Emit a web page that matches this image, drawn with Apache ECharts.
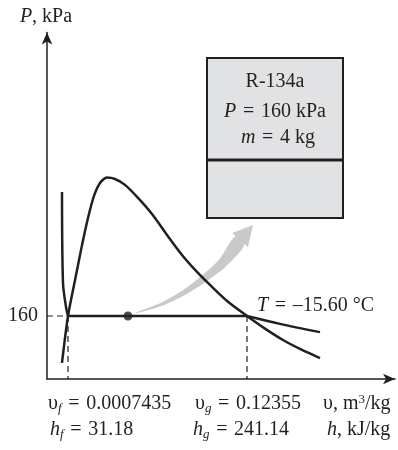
<!DOCTYPE html>
<html>
<head>
<meta charset="utf-8">
<script src="https://cdn.jsdelivr.net/npm/echarts@6.0.0/dist/echarts.min.js"></script>
<style>
  html, body { margin: 0; padding: 0; background: #fff; }
  #main { width: 398px; height: 450px; }
</style>
</head>
<body>
<div id="main"></div>
<script>
// schematic P-v diagram, v in arbitrary units along the axis, P in kPa-like units
// saturation dome (sat. liquid line up to the critical point, sat. vapor line down)
var domeV = [15, 21, 28, 35, 41, 47, 53, 60, 68, 78, 91, 105, 120, 135, 150, 165, 181, 200, 218, 236, 254, 273];
var domeP = [41, 160, 251, 340, 409, 465, 498, 512, 508, 493, 460, 419, 366, 315, 272, 234, 196, 160, 128, 99, 75, 53];

// isotherm T = -15.60 C: compressed liquid, two-phase, superheated
var liqV = [15, 16, 19, 21];
var liqP = [475, 244, 183, 160];
var vapV = [200, 233, 273];
var vapP = [160, 140, 119];

var satP = 160;
var vf = 21;
var vg = 200;
var stateV = 81;

// gray curved arrow, shaft points then tip
var arrowV = [89, 113, 138, 158, 176, 193];
var arrowP = [168, 188, 221, 257, 296, 353];
var arrowTip = [206, 391];

var yTicks = [160];

var FONT = '"Liberation Serif", "DejaVu Serif", serif';
var INK = '#231f20';
var SP = '\u2004';

function pairs(xs, ys) {
    return xs.map(function (x, i) { return [x, ys[i]]; });
}

function renderArrow(params, api) {
    var pts = arrowV.map(function (v, i) { return api.coord([v, arrowP[i]]); });
    var n = pts.length;
    var left = [], right = [];
    for (var i = 0; i < n; i++) {
        var a = pts[Math.max(i - 1, 0)], b = pts[Math.min(i + 1, n - 1)];
        var tx = b[0] - a[0], ty = b[1] - a[1];
        var len = Math.sqrt(tx * tx + ty * ty);
        var nx = -ty / len, ny = tx / len;
        var w = 0.4 + 5.6 * i / (n - 1);
        left.push([pts[i][0] + nx * w, pts[i][1] + ny * w]);
        right.push([pts[i][0] - nx * w, pts[i][1] - ny * w]);
    }
    var shaft = left.concat(right.reverse());
    var tip = api.coord(arrowTip);
    var last = pts[n - 1];
    var dx = tip[0] - last[0], dy = tip[1] - last[1];
    var dl = Math.sqrt(dx * dx + dy * dy);
    var hx = -dy / dl * 10.5, hy = dx / dl * 10.5;
    var head = [[last[0] + hx, last[1] + hy], tip, [last[0] - hx, last[1] - hy]];
    return {
        type: 'group',
        children: [
            { type: 'polygon', shape: { points: shaft, smooth: 0.3 }, style: { fill: '#c8c9cb' } },
            { type: 'polygon', shape: { points: head }, style: { fill: '#c8c9cb' } }
        ]
    };
}

var chart = echarts.init(document.getElementById('main'));

var sub = { fontSize: 13, fontStyle: 'italic', fontFamily: FONT, padding: [10, 0, 0, 0] };
var sup = { fontSize: 13, fontFamily: FONT, padding: [0, 0, 9, 0] };
var it = { fontStyle: 'italic', fontFamily: FONT, fontSize: 20 };

function label(text, x, y, align) {
    return {
        type: 'text',
        x: x, y: y,
        style: {
            text: text,
            fontFamily: FONT, fontSize: 20, fill: INK,
            align: align || 'left', verticalAlign: 'middle',
            rich: { i: it, s: sub, u: sup }
        }
    };
}

var EQ = SP + '=' + SP;

function curve(data, smooth) {
    return {
        type: 'line', data: data, symbol: 'none', smooth: smooth, z: 3,
        lineStyle: { color: INK, width: 2.5 }
    };
}

function dashed(data) {
    return {
        type: 'line', data: data, symbol: 'none', z: 2,
        lineStyle: { color: INK, width: 1.2, type: [6, 4] }
    };
}

chart.setOption({
    animation: false,
    backgroundColor: '#fff',
    grid: { left: 47, top: 32.5, right: 3, bottom: 71 },
    xAxis: {
        type: 'value', min: 0, max: 348,
        axisLine: { show: true, symbol: ['none', 'arrow'], symbolSize: [8, 12], lineStyle: { color: INK, width: 1.5 } },
        axisTick: { show: false },
        axisLabel: { show: false },
        splitLine: { show: false }
    },
    yAxis: {
        type: 'value', min: 0, max: 880,
        axisLine: { show: true, symbol: ['none', 'arrow'], symbolSize: [8, 12], lineStyle: { color: INK, width: 1.5 } },
        axisTick: { show: false },
        axisLabel: { customValues: yTicks, margin: 9, color: INK, fontFamily: FONT, fontSize: 20 },
        splitLine: { show: false }
    },
    graphic: [
        label('{i|P}, kPa', 46, 17, 'center'),
        label('{i|T}' + EQ + '–15.60 °C', 257, 306),
        label('υ{s|f}' + EQ + '0.0007435', 48, 404),
        label('υ{s|g}' + EQ + '0.12355', 195, 404),
        label('υ, m{u|3}/kg', 323, 404),
        label('{i|h}{s|f}' + EQ + '31.18', 50, 430),
        label('{i|h}{s|g}' + EQ + '241.14', 193, 430),
        label('{i|h}, kJ/kg', 327, 430),
        {
            type: 'rect', z: 10,
            shape: { x: 207, y: 58, width: 136, height: 160 },
            style: { fill: '#e1e2e4', stroke: INK, lineWidth: 2 }
        },
        {
            type: 'line', z: 11,
            shape: { x1: 207, y1: 160, x2: 343, y2: 160 },
            style: { stroke: INK, lineWidth: 3 }
        },
        Object.assign(label('R-134a', 275, 82, 'center'), { z: 12 }),
        Object.assign(label('{i|P}' + EQ + '160 kPa', 275, 112, 'center'), { z: 12 }),
        Object.assign(label('{i|m}' + EQ + '4 kg', 278, 138, 'center'), { z: 12 })
    ],
    series: [
        {
            type: 'custom', renderItem: renderArrow, data: [[0, 0]], silent: true, z: 1
        },
        dashed([[0, satP], [vf, satP]]),
        dashed([[vf, satP], [vf, 0]]),
        dashed([[vg, satP], [vg, 0]]),
        curve(pairs(domeV, domeP), 0.25),
        curve(pairs(liqV, liqP), 0.3),
        curve([[vf, satP], [vg, satP]], false),
        curve(pairs(vapV, vapP), 0.3),
        {
            type: 'scatter', data: [[stateV, satP]], symbolSize: 9, z: 4,
            itemStyle: { color: INK }
        }
    ]
});
</script>
</body>
</html>
